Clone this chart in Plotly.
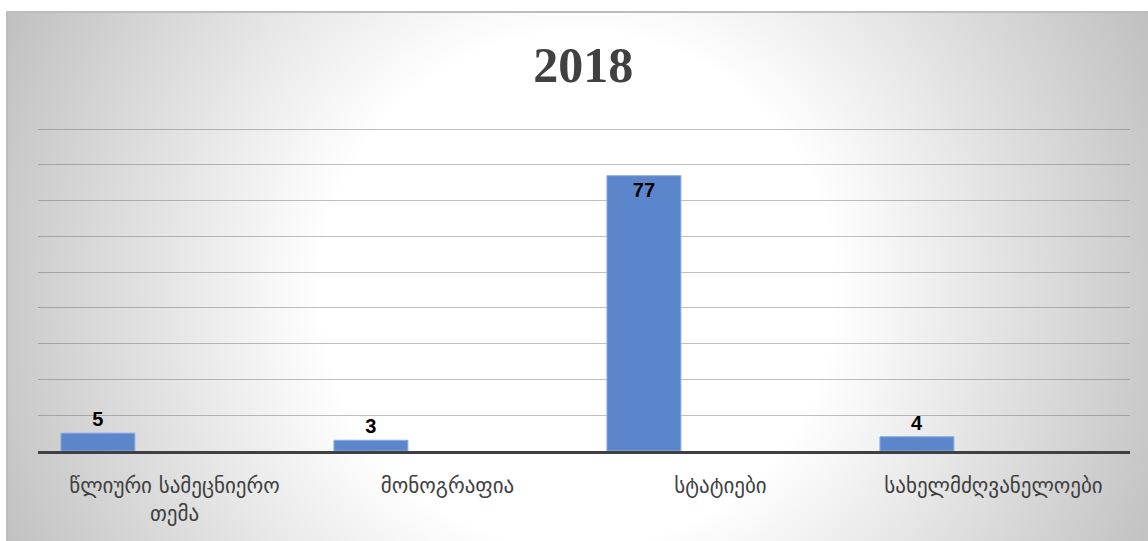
import base64
import plotly.graph_objects as go

categories = ["წლიური სამეცნიერო<br>თემა", "მონოგრაფია", "სტატიები", "სახელმძღვანელოები"]
values = [5, 3, 77, 4]
value_labels = ["5", "3", "77", "4"]
label_positions = ["outside", "outside", "inside", "outside"]
title_text = "2018"

# background radial gradient (chart area fill)
W, H = 1142, 530
svg = f'''<svg xmlns="http://www.w3.org/2000/svg" width="{W}" height="{H}" viewBox="0 0 {W} {H}" preserveAspectRatio="none">
<defs><radialGradient id="g" gradientUnits="userSpaceOnUse" cx="572" cy="279" r="640">
<stop offset="0.40" stop-color="#ffffff"/><stop offset="1" stop-color="#bfbfbf"/></radialGradient></defs>
<rect x="0" y="0" width="{W}" height="{H}" fill="url(#g)"/>
<line x1="0" y1="1" x2="{W}" y2="1" stroke="#bdbdbd" stroke-width="2"/>
<line x1="1" y1="0" x2="1" y2="{H}" stroke="#bdbdbd" stroke-width="2"/>
</svg>'''
src = "data:image/svg+xml;base64," + base64.b64encode(svg.encode()).decode()

fig = go.Figure()
fig.add_trace(go.Bar(
    x=categories, y=values,
    width=0.271, offset=-0.416,
    marker=dict(color="#5b86cc", line=dict(color="#8eaee0", width=1)),
    text=value_labels, textposition=label_positions,
    insidetextanchor="end",
    textfont=dict(family="Liberation Sans", size=20, color="#000000", weight="bold"),
    cliponaxis=False,
    hoverinfo="skip",
))

L, R, T, B = 38, 18, 122, 90
pw = 1148 - L - R
ph = 541 - T - B

fig.update_layout(
    width=1148, height=541,
    margin=dict(l=L, r=R, t=T, b=B, pad=0),
    paper_bgcolor="#ffffff",
    plot_bgcolor="rgba(0,0,0,0)",
    showlegend=False,
    title=dict(text=title_text, x=0.508, xref="container", xanchor="center",
               y=1 - 64 / 541, yref="container", yanchor="middle",
               font=dict(family="Liberation Serif", size=50, color="#404040", weight="bold")),
    images=[dict(source=src, xref="paper", yref="paper",
                 x=(6 - L) / pw, y=(541 - B - 11) / ph,
                 sizex=(1148 - 6) / pw, sizey=530 / ph,
                 xanchor="left", yanchor="top", sizing="stretch", layer="below")],
    xaxis=dict(showgrid=False, showline=True, linecolor="#404040", linewidth=3,
               ticks="", ticklabelstandoff=14,
               tickfont=dict(family="DejaVu Sans", size=21, color="#404040"),
               fixedrange=True),
    yaxis=dict(range=[0, 92], tickvals=[10, 20, 30, 40, 50, 60, 70, 80, 90],
               showgrid=True, gridcolor="rgba(110,110,110,0.45)",
               gridwidth=1.3, zeroline=False, showticklabels=False, ticks="",
               fixedrange=True),
    bargap=0.2,
)

fig.write_html("out.html", config={"displayModeBar": False},
               post_script="document.body.style.margin='0px';document.body.style.overflow='hidden';")
